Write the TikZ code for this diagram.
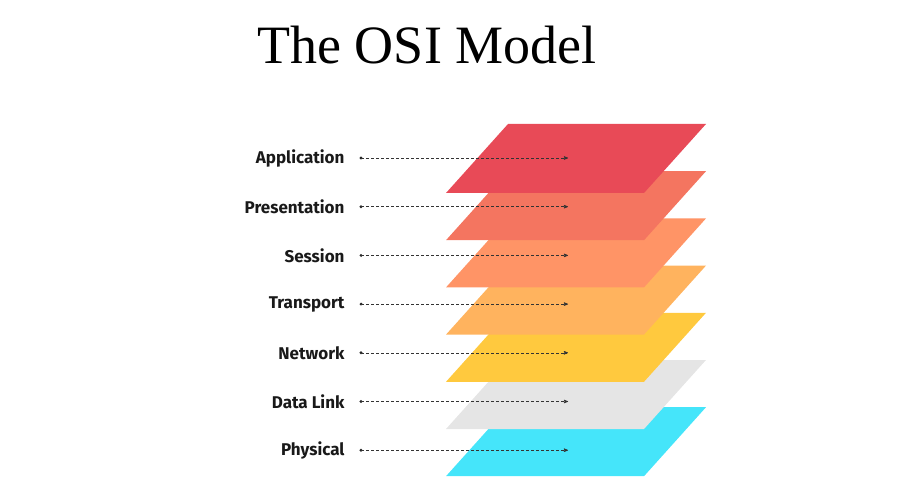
\documentclass[tikz,border=0pt]{standalone}
\usepackage{fontspec}
\setmainfont{Liberation Serif}
\newfontfamily\labelfont{Fira Sans}
\usetikzlibrary{arrows,calc,positioning}
\definecolor{appred}{HTML}{E84A57}
\definecolor{presred}{HTML}{F47560}
\definecolor{sessorange}{HTML}{FF9466}
\definecolor{transorange}{HTML}{FFB35E}
\definecolor{netyellow}{HTML}{FFC93E}
\definecolor{linkgray}{HTML}{E5E5E5}
\definecolor{physcyan}{HTML}{45E5FA}
\begin{document}
\begin{tikzpicture}[x=1pt,y=-1pt,>=stealth',
	layername/.style={anchor=east,font=\labelfont\bfseries\fontsize{17}{20}\selectfont,text=black!90},
	pointer/.style={->,densely dashed,black!80,line width=0.6pt,shorten >=0pt}]
	\useasboundingbox (0,0) rectangle (900,500);
	\node (title) at (427,45) {\fontsize{54}{60}\selectfont The OSI Model};
	% layers, bottom one first
	\foreach \i/\col in {6/physcyan,5/linkgray,4/netyellow,3/transorange,2/sessorange,1/presred,0/appred}{
		\coordinate (l\i) at (446,124+47.2*\i);
		\fill[\col] (l\i) ++(62,0) -- ++(198,0) -- ++(-62,69) -- ++(-198,0) -- cycle;
	}
	% names and pointers
	\foreach \i/\name in {0/Application,1/Presentation,2/Session,3/Transport,4/Network,5/Data Link,6/Physical}{
		\node[layername] (n\i) at (348,158+48.7*\i) {\name};
		\coordinate (s\i) at (361,158+48.7*\i);
		\coordinate (e\i) at (568,158+48.7*\i);
		\fill[black!85] (s\i) circle (1.6);
		\draw[pointer] (s\i) -- (e\i);
	}
\end{tikzpicture}
\end{document}
